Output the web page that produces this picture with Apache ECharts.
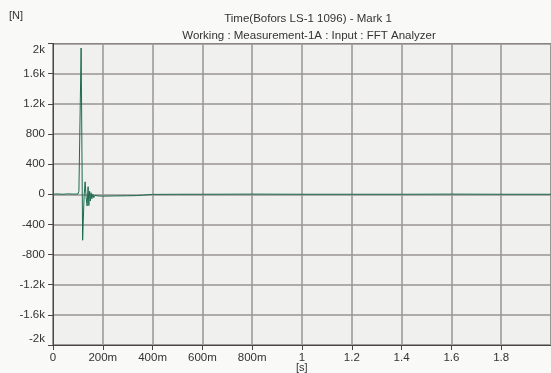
<!DOCTYPE html>
<html><head><meta charset="utf-8">
<script src="https://cdn.jsdelivr.net/npm/echarts@6/dist/echarts.min.js"></script>
<style>html,body{margin:0;padding:0;background:#f9f9f8;}#c{width:551px;height:373px;}</style>
</head><body><div id="c"></div>
<script>
var titleText = "Time(Bofors LS-1 1096) - Mark 1";
var subText = "Working : Measurement-1A : Input : FFT Analyzer";
var yUnit = "[N]";
var xUnit = "[s]";
var timeS = [0, 0.02, 0.04, 0.06, 0.08, 0.1, 0.104, 0.113, 0.119, 0.125, 0.129, 0.133, 0.137, 0.141, 0.144, 0.147, 0.150, 0.153, 0.156, 0.160, 0.164, 0.168, 0.172, 0.18, 0.2, 0.25, 0.3, 0.335, 0.34, 0.4, 0.5, 0.6, 0.8, 1.0, 1.2, 1.4, 1.6, 1.8, 2.0];
var forceN = [2, 4, 0, 5, 2, 3, 40, 1940, -610, -20, 165, -40, -155, 100, -150, 40, -90, 20, -60, 0, -45, -15, -35, -22, -25, -22, -20, -18, -5, -2, 0, 0, 2, 0, 0, 0, 2, 0, 0];
var yMin = -2000, yMax = 2000, yStep = 400;
var xMin = 0, xMax = 2.0, xStep = 0.2;

var data = timeS.map(function (t, i) { return [t, forceN[i]]; });
var chart = echarts.init(document.getElementById('c'), null, {renderer: 'canvas'});
var txt = '#333';
var ff = 'Liberation Sans, Arial, sans-serif';
chart.setOption({
  backgroundColor: '#f9f9f8',
  animation: false,
  title: [
    {text: titleText, left: 303, top: 8, textAlign: 'center',
     textStyle: {fontSize: 11.5, fontWeight: 'normal', color: txt, fontFamily: ff}},
    {text: subText, left: 304, top: 25, textAlign: 'center',
     textStyle: {fontSize: 11.5, fontWeight: 'normal', color: txt, fontFamily: ff}}
  ],
  graphic: [
    {type: 'text', left: 9, top: 10, style: {text: yUnit, fontSize: 11, fill: txt, fontFamily: ff}},
    {type: 'text', left: 296, top: 362, style: {text: xUnit, fontSize: 11, fill: txt, fontFamily: ff}}
  ],
  grid: {left: 53, top: 43.5, right: -2.8, bottom: 28, show: true,
         backgroundColor: '#f0f0ee', borderColor: '#5a5656', borderWidth: 1},
  xAxis: {
    type: 'value', min: xMin, max: xMax, interval: xStep,
    axisLine: {show: true, onZero: false, lineStyle: {color: '#4a4646', width: 1}},
    axisTick: {show: true, length: 5, lineStyle: {color: '#4a4646'}},
    splitLine: {show: true, lineStyle: {color: '#9a9595', width: 1.5}},
    axisLabel: {color: txt, fontSize: 11.5, fontFamily: ff, margin: 7, showMaxLabel: false,
      formatter: function (v) {
        if (v >= 1.99) return '';
        if (Math.abs(v) < 1e-9) return '0';
        if (v < 0.999) return Math.round(v * 1000) + 'm';
        return String(Number(v.toFixed(1)));
      }}
  },
  yAxis: {
    type: 'value', min: yMin, max: yMax, interval: yStep,
    axisLine: {show: true, onZero: false, lineStyle: {color: '#4a4646', width: 1}},
    axisTick: {show: true, length: 5, lineStyle: {color: '#4a4646'}},
    splitLine: {show: true, lineStyle: {color: '#9a9595', width: 1.5}},
    axisLabel: {color: txt, fontSize: 11.5, fontFamily: ff, margin: 8,
      verticalAlignMaxLabel: 'top', verticalAlignMinLabel: 'bottom',
      formatter: function (v) {
        if (Math.abs(v) >= 1000) return Number((v / 1000).toFixed(1)) + 'k';
        return String(v);
      }}
  },
  series: [{
    type: 'line', data: data, showSymbol: false, symbol: 'none',
    lineStyle: {color: '#1d6b4d', width: 1}, clip: true
  }]
});
</script></body></html>
